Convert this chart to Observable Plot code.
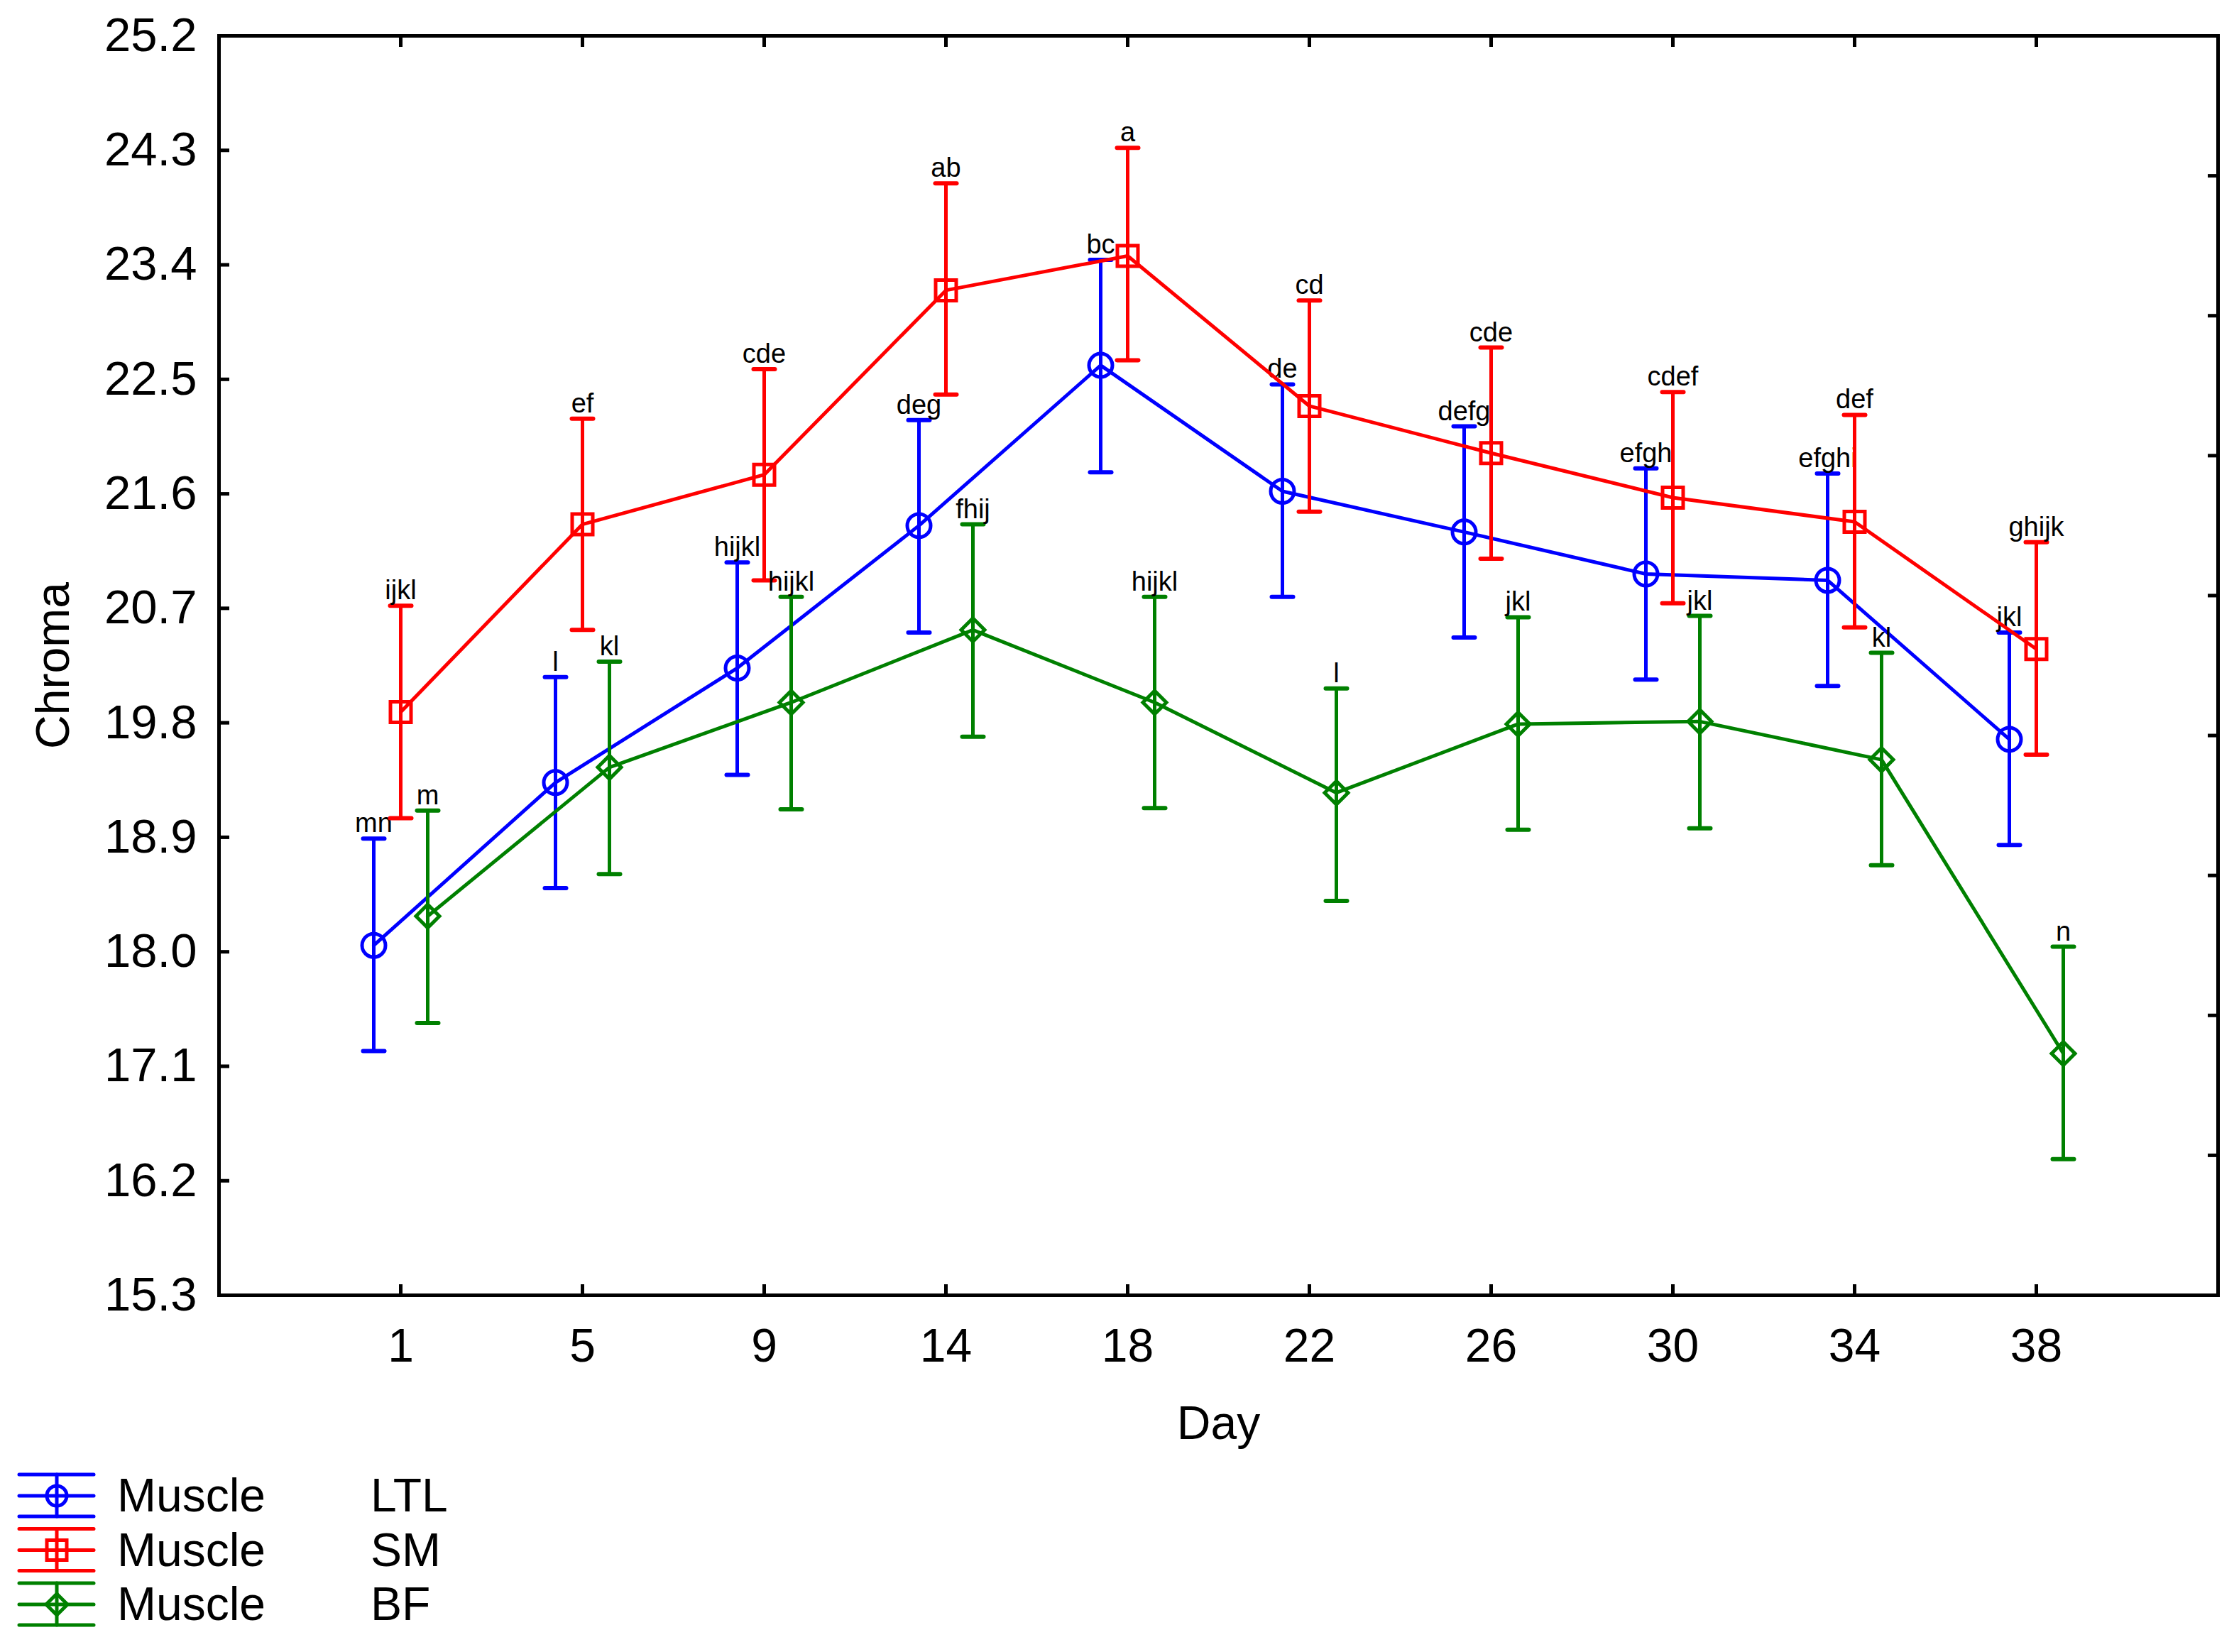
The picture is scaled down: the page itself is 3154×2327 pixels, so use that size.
<!DOCTYPE html>
<html>
<head>
<meta charset="utf-8">
<script src="https://cdn.jsdelivr.net/npm/d3@7"></script>
<script src="https://cdn.jsdelivr.net/npm/@observablehq/plot@0.6"></script>
<style>
  body { margin: 0; background: #fff; }
  #chart { position: relative; width: 3154px; height: 2327px; font-family: "Liberation Sans", Arial, sans-serif; }
  #legend { position: absolute; left: 0; top: 2050px; }
</style>
</head>
<body>
<div id="chart"></div>
<script>
// Chroma by storage day, three muscles (mean with error bars + letter groups)

const days = [1, 5, 9, 14, 18, 22, 26, 30, 34, 38];
const yTicks = [15.3, 16.2, 17.1, 18.0, 18.9, 19.8, 20.7, 21.6, 22.5, 23.4, 24.3, 25.2];
const rightTicks = [16.4, 17.5, 18.6, 19.7, 20.8, 21.9, 23.0, 24.1];

const ltlMean = [18.05, 19.33, 20.23, 21.35, 22.61, 21.62, 21.30, 20.97, 20.92, 19.67];
const ltlLow = [17.22, 18.50, 19.39, 20.51, 21.77, 20.79, 20.47, 20.14, 20.09, 18.84];
const ltlHigh = [18.89, 20.16, 21.06, 22.18, 23.44, 22.46, 22.13, 21.80, 21.76, 20.51];
const ltlLetters = ["mn", "l", "hijkl", "deg", "bc", "de", "defg", "efgh", "efghi", "jkl"];

const smMean = [19.885, 21.36, 21.75, 23.20, 23.47, 22.29, 21.92, 21.57, 21.38, 20.38];
const smLow = [19.05, 20.53, 20.92, 22.38, 22.65, 21.46, 21.09, 20.74, 20.55, 19.55];
const smHigh = [20.72, 22.19, 22.58, 24.04, 24.32, 23.12, 22.75, 22.40, 22.22, 21.22];
const smLetters = ["ijkl", "ef", "cde", "ab", "a", "cd", "cde", "cdef", "def", "ghijk"];

const bfMean = [18.28, 19.45, 19.96, 20.53, 19.96, 19.25, 19.79, 19.81, 19.51, 17.20];
const bfLow = [17.44, 18.61, 19.12, 19.69, 19.13, 18.40, 18.96, 18.97, 18.68, 16.37];
const bfHigh = [19.11, 20.28, 20.79, 21.36, 20.79, 20.07, 20.63, 20.64, 20.35, 18.04];
const bfLetters = ["m", "kl", "hijkl", "fhij", "hijkl", "l", "jkl", "jkl", "kl", "n"];

// custom marker shapes; r comes from Plot's size (r*r*PI)
const shape = draw => ({ draw(ctx, size) { draw(ctx, Math.sqrt(size / Math.PI)); } });
const circleSym = shape((c, r) => { c.moveTo(r, 0); c.arc(0, 0, r, 0, 2 * Math.PI); });
const squareSym = shape((c, r) => { c.rect(-r, -r, 2 * r, 2 * r); });
const diamondSym = shape((c, r) => { c.moveTo(0, -r); c.lineTo(r, 0); c.lineTo(0, r); c.lineTo(-r, 0); c.closePath(); });
const capSym = shape((c, r) => { c.moveTo(-r, 0); c.lineTo(r, 0); });

const series = [
  { name: "LTL", mean: ltlMean, lo: ltlLow, hi: ltlHigh, letters: ltlLetters, color: "#0000ff", symbol: circleSym, r: 16.5, lr: 14, dx: -38 },
  { name: "SM", mean: smMean, lo: smLow, hi: smHigh, letters: smLetters, color: "#ff0000", symbol: squareSym, r: 14.5, lr: 14, dx: 0 },
  { name: "BF", mean: bfMean, lo: bfLow, hi: bfHigh, letters: bfLetters, color: "#008000", symbol: diamondSym, r: 16.5, lr: 15, dx: 38 },
];

function seriesMarks(s) {
  const rows = days.map((day, i) => ({ day, mean: s.mean[i], lo: s.lo[i], hi: s.hi[i], letter: s.letters[i] }));
  return [
    Plot.line(rows, { x: "day", y: "mean", stroke: s.color, strokeWidth: 5, dx: s.dx }),
    Plot.ruleX(rows, { x: "day", y1: "lo", y2: "hi", stroke: s.color, strokeWidth: 5, dx: s.dx }),
    Plot.dot(rows, { x: "day", y: "hi", symbol: capSym, r: 15, stroke: s.color, strokeWidth: 6, strokeLinecap: "round", dx: s.dx }),
    Plot.dot(rows, { x: "day", y: "lo", symbol: capSym, r: 15, stroke: s.color, strokeWidth: 6, strokeLinecap: "round", dx: s.dx }),
    Plot.dot(rows, { x: "day", y: "mean", symbol: s.symbol, r: s.r, stroke: s.color, strokeWidth: 5, fill: "none", dx: s.dx }),
    Plot.text(rows, { x: "day", y: "hi", text: "letter", dx: s.dx, dy: -9, lineAnchor: "bottom", fontSize: 38, fill: "black" }),
  ];
}

const blank = () => "";

const plot = Plot.plot({
  width: 3154,
  height: 2050,
  marginLeft: 308,
  marginRight: 30,
  marginTop: 50,
  marginBottom: 226,
  style: { fontFamily: "'Liberation Sans', Arial, sans-serif", background: "white", color: "black" },
  x: { type: "point", domain: days, padding: 1 },
  y: { domain: [15.3, 25.2] },
  marks: [
    Plot.axisY({ anchor: "left", ticks: yTicks, tickSize: 0, tickPadding: 31, tickFormat: d3.format(".1f"), fontSize: 67, label: null }),
    Plot.axisY({ anchor: "left", ticks: yTicks, tickSize: 15, dx: 15, strokeWidth: 5, tickFormat: blank, label: null }),
    Plot.axisY({ anchor: "right", ticks: rightTicks, tickSize: 15, dx: -15, strokeWidth: 5, tickFormat: blank, label: null }),
    Plot.axisX({ anchor: "bottom", tickSize: 0, tickPadding: 47, fontSize: 66, label: null }),
    Plot.axisX({ anchor: "bottom", tickSize: 15, dy: -15, strokeWidth: 5, tickFormat: blank, label: null }),
    Plot.axisX({ anchor: "top", tickSize: 15, dy: 15, strokeWidth: 5, tickFormat: blank, label: null }),
    Plot.text(["Chroma"], { text: d => d, frameAnchor: "left", textAnchor: "middle", dx: -233, rotate: -90, fontSize: 66, fill: "black" }),
    Plot.text(["Day"], { text: d => d, frameAnchor: "bottom", dy: 202, lineAnchor: "bottom", fontSize: 66, fill: "black" }),
    ...series.flatMap(seriesMarks),
    Plot.frame({ stroke: "black", strokeWidth: 5 }),
  ],
});

const chart = document.getElementById("chart");
chart.appendChild(plot);

// legend below the plot
const legend = d3.select(chart).append("svg")
  .attr("id", "legend").attr("width", 700).attr("height", 277)
  .style("font-family", "'Liberation Sans', Arial, sans-serif");

series.forEach((s, k) => {
  const g = legend.append("g").attr("transform", `translate(80,${57 + 76.5 * k})`)
    .attr("stroke", s.color).attr("stroke-width", 5).attr("stroke-linecap", "round").attr("fill", "none");
  [-30, 0, 29].forEach(y => g.append("line").attr("x1", -53).attr("x2", 52).attr("y1", y).attr("y2", y));
  g.append("line").attr("x1", 0).attr("x2", 0).attr("y1", -30).attr("y2", 29);
  const p = d3.path();
  s.symbol.draw(p, s.lr * s.lr * Math.PI);
  g.append("path").attr("d", p.toString());
  const t = legend.append("g").attr("font-size", 66).attr("fill", "black");
  t.append("text").attr("x", 165).attr("y", 57 + 76.5 * k + 22).text("Muscle");
  t.append("text").attr("x", 522).attr("y", 57 + 76.5 * k + 22).text(s.name);
});
</script>
</body>
</html>
